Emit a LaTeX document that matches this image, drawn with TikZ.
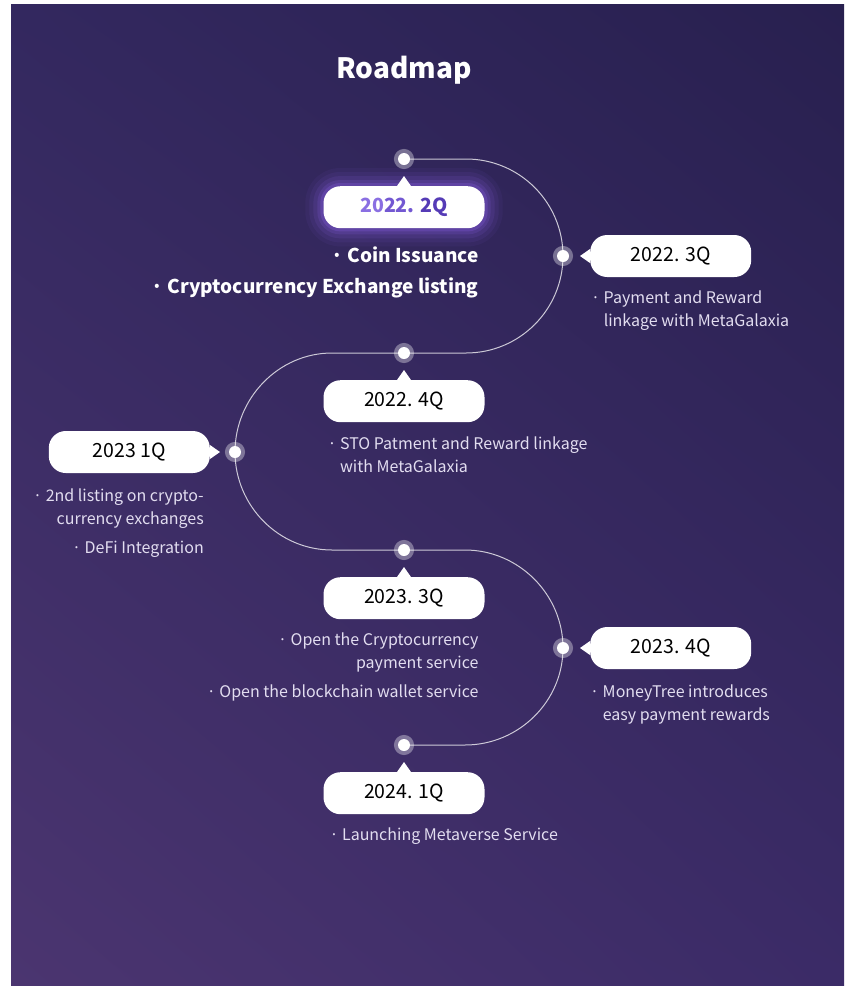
\documentclass[tikz,border=0pt]{standalone}
\usepackage{fontspec}
\setmainfont{Noto Sans CJK KR}
\usetikzlibrary{positioning}
\usetikzlibrary{backgrounds}
\usetikzlibrary{shadings}

\definecolor{bgtl}{HTML}{33285F}
\definecolor{bgtr}{HTML}{28204F}
\definecolor{bgbl}{HTML}{4B3570}
\definecolor{bgbr}{HTML}{3B2B67}
\definecolor{notecol}{HTML}{E2DDF0}
\definecolor{glowcol}{HTML}{9A6BFF}
\definecolor{nowa}{HTML}{8A6FE2}
\definecolor{nowb}{HTML}{7358D2}
\definecolor{nowc}{HTML}{553BB6}

\tikzset {
  % the winding timeline
  track/.style = {
    draw = white,
    draw opacity = 0.75,
    line width = 1pt
  },
  stage dot/.style = {
    circle,
    fill = white,
    draw = white,
    draw opacity = 0.35,
    line width = 8pt,
    minimum size = 12pt,
    inner sep = 0,
    outer sep = 0
  },
  % date bubble
  stage/.style = {
    fill = white,
    rounded corners = 17pt,
    minimum width = 161pt,
    minimum height = 42pt,
    inner sep = 0,
    text = black,
    font = \fontsize{19.5}{20}\selectfont
  },
  notes/.style = {
    text = notecol,
    inner sep = 0,
    font = \fontsize{16}{23}\selectfont
  },
  % items of the current stage
  key notes/.style = {
    text = white,
    inner sep = 0,
    font = \fontsize{19}{31}\selectfont\bfseries
  },
  node distance = 21pt
}

\begin{document}
\begin{tikzpicture}[x=1pt, y=-1pt]
    \useasboundingbox (0,0) rectangle (847,986);

    \node[text = white, font = \fontsize{28}{30}\selectfont\bfseries] (title) at (404,70) {Roadmap};

    \node[stage dot] (d1) at (404,159) {};
    \node[stage dot] (d2) at (563,256) {};
    \node[stage dot] (d3) at (404,353) {};
    \node[stage dot] (d4) at (235,452) {};
    \node[stage dot] (d5) at (404,550) {};
    \node[stage dot] (d6) at (563,648) {};
    \node[stage dot] (d7) at (404,745) {};

    \node[stage, font = \fontsize{19.5}{20}\selectfont\bfseries] (b1) [below=of d1]
      {{\color{nowa}20}{\color{nowb}22.} {\color{nowc}2Q}};
    \node[stage] (b2) [right=of d2] {2022. 3Q};
    \node[stage] (b3) [below=of d3] {2022. 4Q};
    \node[stage] (b4) [left=19pt of d4] {2023 1Q};
    \node[stage] (b5) [below=of d5] {2023. 3Q};
    \node[stage] (b6) [right=of d6] {2023. 4Q};
    \node[stage] (b7) [below=of d7] {2024. 1Q};

    \foreach \b in {b1,b3,b5,b7}
      \fill[white] ([xshift=-7pt]\b.north) -- ([yshift=10pt]\b.north) -- ([xshift=7pt]\b.north) -- cycle;
    \foreach \b in {b2,b6}
      \fill[white] ([yshift=7pt]\b.west) -- ([xshift=-10pt]\b.west) -- ([yshift=-7pt]\b.west) -- cycle;
    \fill[white] ([yshift=7pt]b4.east) -- ([xshift=10pt]b4.east) -- ([yshift=-7pt]b4.east) -- cycle;

    \node[key notes, align = right] (n1) [below=18pt of b1.south east, anchor = north east, xshift = -6pt]
      {·\ Coin Issuance\\ ·\ Cryptocurrency Exchange listing};
    \node[notes, align = left] (n2) [below=13pt of b2.south west, anchor = north west, xshift = 1pt]
      {·\ Payment and Reward\\ \hphantom{·\ }linkage with MetaGalaxia};
    \node[notes, align = left] (n3) [below=14pt of b3.south west, anchor = north west, xshift = 4pt]
      {·\ STO Patment and Reward linkage\\ \hphantom{·\ }with MetaGalaxia};
    \node[notes, align = right] (n4) [below=15pt of b4.south east, anchor = north east, xshift = -6pt]
      {·\ 2nd listing on crypto-\\ currency exchanges\\[6pt] ·\ DeFi Integration};
    \node[notes, align = right] (n5) [below=13pt of b5.south east, anchor = north east, xshift = -6pt]
      {·\ Open the Cryptocurrency\\ payment service\\[6pt] ·\ Open the blockchain wallet service};
    \node[notes, align = left] (n6) [below=15pt of b6.south west, anchor = north west, xshift = 0pt]
      {·\ MoneyTree introduces\\ \hphantom{·\ }easy payment rewards};
    \node[notes, align = left] (n7) [below=13pt of b7.south west, anchor = north west, xshift = 6pt]
      {·\ Launching Metaverse Service};

    \begin{scope}[on background layer]
      \shade[upper left = bgtl, upper right = bgtr, lower left = bgbl, lower right = bgbr]
        (11,4) rectangle (844,986);
      % glow round the current stage
      \foreach \g/\o in {18/0.05, 14/0.07, 10/0.1, 6/0.14, 3/0.2}
        \fill[glowcol, opacity = \o, rounded corners = 17pt + \g pt]
          ([shift={(-\g pt,\g pt)}]b1.north west) rectangle ([shift={(\g pt,-\g pt)}]b1.south east);
      \draw[track] (d1.center) -- ++(62,0)
        .. controls +(53.6,0) and +(0,-53.6) .. (d2.center)
        .. controls +(0,53.6) and +(53.6,0) .. ++(-97,97)
        -- (d3.center) -- ++(-72,0)
        .. controls +(-53.6,0) and +(0,-53.6) .. (d4.center)
        .. controls +(0,53.6) and +(-53.6,0) .. ++(97,98)
        -- (d5.center) -- ++(61,0)
        .. controls +(53.6,0) and +(0,-53.6) .. (d6.center)
        .. controls +(0,53.6) and +(53.6,0) .. ++(-98,97)
        -- (d7.center);
    \end{scope}
\end{tikzpicture}
\end{document}
